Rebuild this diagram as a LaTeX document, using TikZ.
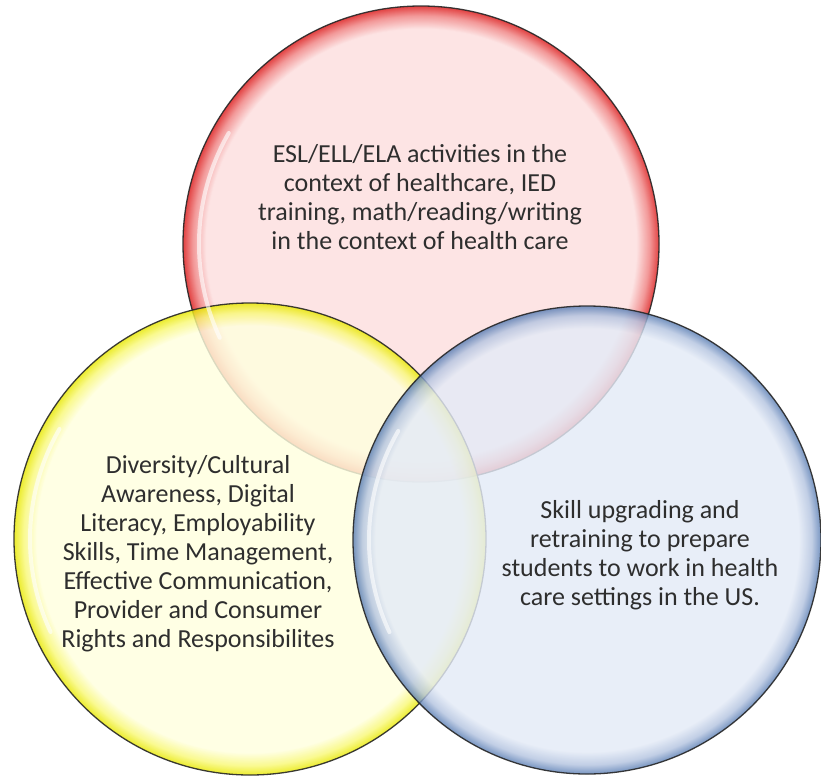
\documentclass[tikz,border=0pt]{standalone}
\usepackage{fontspec}
\setmainfont{Carlito}
\definecolor{redin}{RGB}{253,223,223}
\definecolor{redmid}{RGB}{240,130,130}
\definecolor{redout}{RGB}{220,25,25}
\definecolor{yelin}{RGB}{255,255,223}
\definecolor{yelmid}{RGB}{249,249,120}
\definecolor{yelout}{RGB}{232,232,0}
\definecolor{bluin}{RGB}{228,235,247}
\definecolor{blumid}{RGB}{180,196,224}
\definecolor{bluout}{RGB}{90,126,180}
\pgfdeclareradialshading{redbub}{\pgfpoint{0bp}{0bp}}{color(0bp)=(redin); color(22.6bp)=(redin); color(24bp)=(redmid); color(25bp)=(redout); color(50bp)=(redout)}
\pgfdeclareradialshading{yelbub}{\pgfpoint{0bp}{0bp}}{color(0bp)=(yelin); color(22.6bp)=(yelin); color(24bp)=(yelmid); color(25bp)=(yelout); color(50bp)=(yelout)}
\pgfdeclareradialshading{blubub}{\pgfpoint{0bp}{0bp}}{color(0bp)=(bluin); color(22.6bp)=(bluin); color(24bp)=(blumid); color(25bp)=(bluout); color(50bp)=(bluout)}
\begin{document}
\begin{tikzpicture}[x=1pt,y=-1pt]
\tikzset{
  bubble/.style={circle, draw=black!85, line width=1.3pt, fill opacity=0.82, draw opacity=0.9, inner sep=0pt},
  gloss/.style={white, line width=4pt, line cap=round, draw opacity=0.6},
  lbl/.style={align=center, font=\fontsize{26}{29}\selectfont, text=black!82, inner sep=0pt}
}
\useasboundingbox (0,0) rectangle (821,776);
\fill[white] (0,0) rectangle (821,776);
\node[bubble, minimum size=476pt, shading=redbub] (red) at (421,244) {};
\node[bubble, minimum size=472pt, shading=yelbub] (yel) at (250,539) {};
\node[bubble, minimum size=468pt, shading=blubub] (blu) at (587,540) {};
\draw[gloss, shift={(red.center)}] (150:222pt) arc[start angle=150, end angle=205, radius=222pt];
\draw[gloss, shift={(yel.center)}] (150:220pt) arc[start angle=150, end angle=205, radius=220pt];
\draw[gloss, shift={(blu.center)}] (150:218pt) arc[start angle=150, end angle=205, radius=218pt];
\node[lbl] (tred) at (420,197) {ESL/ELL/ELA activities in the\\context of healthcare, IED\\training, math/reading/writing\\in the context of health care};
\node[lbl] (tyel) at (198,554) {Diversity/Cultural\\Awareness, Digital\\Literacy, Employability\\Skills, Time Management,\\Effective Communication,\\Provider and Consumer\\Rights and Responsibilites};
\node[lbl] (tblu) at (640,555) {Skill upgrading and\\retraining to prepare\\students to work in health\\care settings in the US.};
\end{tikzpicture}
\end{document}
